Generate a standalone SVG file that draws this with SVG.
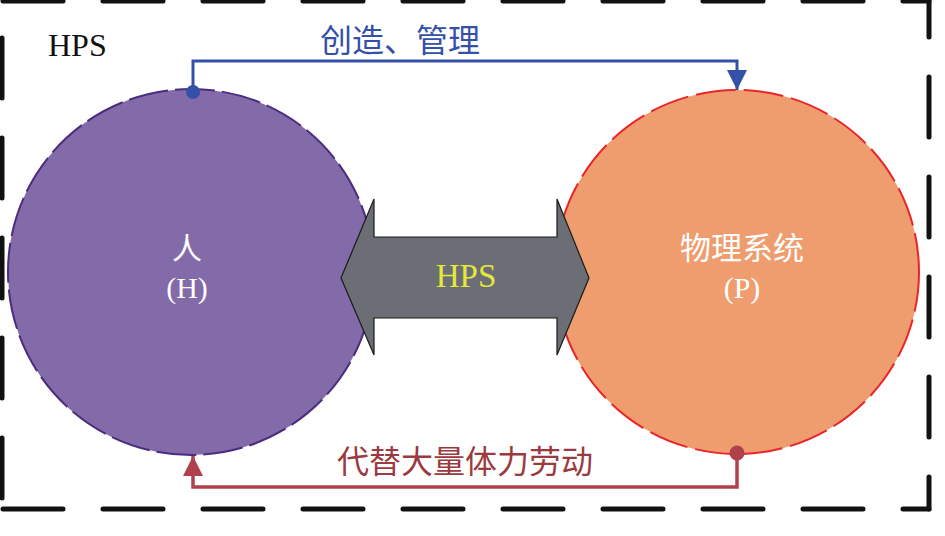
<svg xmlns="http://www.w3.org/2000/svg" width="945" height="536" viewBox="0 0 945 536">
<style>
.frame{fill:none;stroke:#111;stroke-width:5;stroke-linecap:round}
.serif{font-family:"Liberation Serif","Times New Roman",serif}
.cjk{font-family:"Noto Sans CJK SC","Noto Sans",sans-serif}
.wt{fill:#fff}
</style>
<defs>
<marker id="ab" viewBox="0 0 20 20" markerWidth="20" markerHeight="20" refX="20" refY="10" orient="auto" markerUnits="userSpaceOnUse"><path d="M0,0 L20,10 L0,20 Z" fill="#3550A8"/></marker>
<marker id="ar" viewBox="0 0 20 20" markerWidth="20" markerHeight="20" refX="20" refY="10" orient="auto" markerUnits="userSpaceOnUse"><path d="M0,0 L20,10 L0,20 Z" fill="#B0414C"/></marker>
</defs>
<rect width="945" height="536" fill="#fff"/>
<g id="frame">
<line class="frame" x1="3" y1="1" x2="929" y2="1" stroke-dasharray="60 40"/>
<line class="frame" x1="929" y1="1" x2="929" y2="509" stroke-dasharray="36 40 60 40 60 40 60 40 60 40 60 40"/>
<line class="frame" x1="3" y1="509" x2="929" y2="509" stroke-dasharray="60 40"/>
<line class="frame" x1="2" y1="38" x2="2" y2="500" stroke-dasharray="60 40"/>
</g>
<g id="human">
<circle cx="191" cy="272" r="183" fill="#836AA8" stroke="#4B2C7E" stroke-width="2" stroke-dasharray="40 7"/>
<text class="cjk wt" x="187" y="259" font-size="30" text-anchor="middle">人</text>
<text class="serif wt" x="187" y="298" font-size="30" text-anchor="middle">(H)</text>
</g>
<g id="physical">
<circle cx="737" cy="272" r="182" fill="#EF9D6E" stroke="#E8262A" stroke-width="2" stroke-dasharray="40 8"/>
<text class="cjk wt" x="742" y="259" font-size="31" text-anchor="middle">物理系统</text>
<text class="serif wt" x="742" y="298" font-size="30" text-anchor="middle">(P)</text>
</g>
<g id="hps">
<path d="M341,278 L374,199 L374,237 L557,237 L557,199 L589,278 L557,355 L557,318 L374,318 L374,355 Z" fill="#6B6E75" stroke="#1a1a1a" stroke-width="1.2"/>
<text class="serif" x="466" y="287" font-size="33" fill="#E5E83B" text-anchor="middle">HPS</text>
</g>
<g id="label-hps">
<text class="serif" x="48" y="56" font-size="32" fill="#111">HPS</text>
</g>
<g id="connectors">
<path d="M193,92 L193,61 L737,61 L737,90" fill="none" stroke="#3550A8" stroke-width="3" marker-end="url(#ab)"/>
<circle cx="193" cy="92" r="7" fill="#3550A8"/>
<path d="M737,453 L737,487 L193,487 L193,456" fill="none" stroke="#B0414C" stroke-width="3.5" marker-end="url(#ar)"/>
<circle cx="737" cy="453" r="7.5" fill="#B0414C"/>
<text class="cjk" x="400" y="52" font-size="32" fill="#3550A8" text-anchor="middle">创造、管理</text>
<text class="cjk" x="465" y="473" font-size="32" fill="#9B3A3F" text-anchor="middle">代替大量体力劳动</text>
</g>
</svg>
